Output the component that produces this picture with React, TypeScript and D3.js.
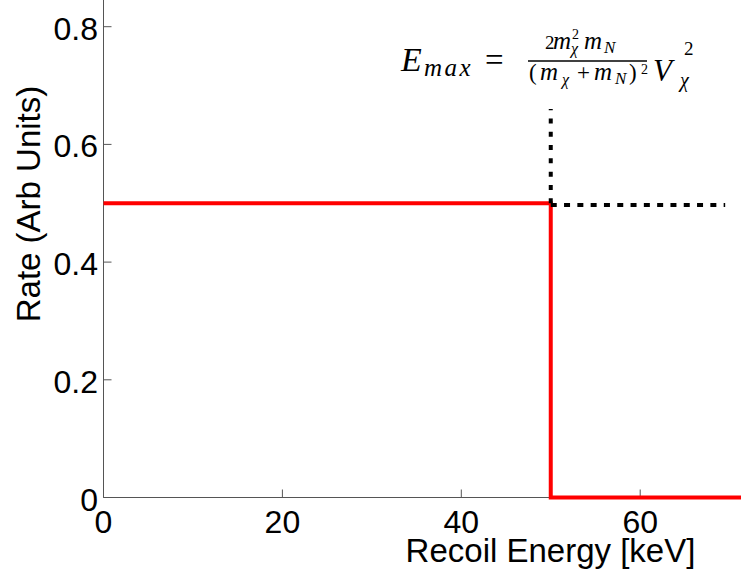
import React from "react";
import * as d3 from "d3";

const energy = [0, 50, 50, 100];
const rate = [0.5, 0.5, 0, 0];
const xTicks = [0, 20, 40, 60, 80, 100];
const yTicks = [0, 0.2, 0.4, 0.6, 0.8, 1];
const yTickLabels = ["0", "0.2", "0.4", "0.6", "0.8", "1"];
const guideVx = [50, 50];
const guideVy = [0.5, 0.66];
const guideHx = [50, 69.5];
const guideHy = [0.497, 0.497];

const W = 741;
const H = 570;
const SANS = "'Liberation Sans', Arial, Helvetica, sans-serif";
const SERIF = "'Liberation Serif', 'Times New Roman', serif";

export default function App() {
  const x = d3.scaleLinear().domain([0, 100]).range([103.5, 998]);
  const y = d3.scaleLinear().domain([0, 1]).range([497.5, -91]);
  const line = d3
    .line<number>()
    .x((d, i) => x(energy[i]))
    .y((d) => y(d))
    .curve(d3.curveLinear);
  const redPath = line(rate) || "";
  const gLine = d3.line<[number, number]>().x((d) => x(d[0])).y((d) => y(d[1]));
  const vPath = gLine(guideVx.map((v, i) => [v, guideVy[i]] as [number, number])) || "";
  const hPath = gLine(guideHx.map((v, i) => [v, guideHy[i]] as [number, number])) || "";
  const axisColor = "#555";
  const visX = xTicks.filter((t) => x(t) < W - 15);
  const visY = yTicks.map((t, i) => ({ t, label: yTickLabels[i] })).filter((d) => y(d.t) > 10);

  return (
    <div style={{ position: "absolute", left: 0, top: 0, width: W, height: H, background: "#fff" }}>
      <svg width={W} height={H} viewBox={`0 0 ${W} ${H}`} style={{ display: "block" }}>
        <rect x={0} y={0} width={W} height={H} fill="#fff" />
        {/* axes */}
        <line x1={x(0)} x2={x(100)} y1={y(0)} y2={y(0)} stroke={axisColor} strokeWidth={1} />
        <line x1={x(0)} x2={x(0)} y1={y(0)} y2={y(1)} stroke={axisColor} strokeWidth={1} />
        {xTicks.map((t) => (
          <line key={"xtl" + t} x1={x(t)} x2={x(t)} y1={y(0)} y2={y(0) - 8} stroke={axisColor} strokeWidth={1} />
        ))}
        {visX.map((t) => (
          <text key={"xt" + t} x={x(t)} y={y(0) + 35} textAnchor="middle" fontFamily={SANS} fontSize={32} fill="#000">
            {t}
          </text>
        ))}
        {yTicks.map((t) => (
          <line key={"ytl" + t} x1={x(0)} x2={x(0) + 8} y1={y(t)} y2={y(t)} stroke={axisColor} strokeWidth={1} />
        ))}
        {visY.map((d) => (
          <text key={"yt" + d.t} x={98} y={y(d.t) + 13} textAnchor="end" fontFamily={SANS} fontSize={32} fill="#000">
            {d.label}
          </text>
        ))}
        {/* axis labels */}
        <text x={550.5} y={562} textAnchor="middle" fontFamily={SANS} fontSize={33} fill="#000">
          Recoil Energy [keV]
        </text>
        <text
          transform={`translate(40, 204) rotate(-90)`}
          textAnchor="middle"
          fontFamily={SANS}
          fontSize={33}
          fill="#000"
        >
          Rate (Arb Units)
        </text>
        {/* data */}
        <path d={redPath} fill="none" stroke="#ff0000" strokeWidth={4} strokeLinejoin="miter" />
        <path d={vPath} fill="none" stroke="#000" strokeWidth={4} strokeDasharray="5,8.3" />
        <path d={hPath} fill="none" stroke="#000" strokeWidth={4} strokeDasharray="6,7.3" />
        {/* formula */}
        <g fill="#000" fontFamily={SERIF}>
          <text x={401} y={71} fontSize={34} fontStyle="italic">E</text>
          <text x={424} y={76} fontSize={25} fontStyle="italic" letterSpacing={2.5}>max</text>
          <text x={485} y={71} fontSize={33}>=</text>
          <line x1={528} x2={647} y1={61} y2={61} stroke="#000" strokeWidth={1.6} />
          {/* numerator */}
          <text x={545} y={49} fontSize={19}>2</text>
          <text x={553} y={49} fontSize={25} fontStyle="italic">m</text>
          <text x={572} y={39} fontSize={14}>2</text>
          <text x={571} y={54} fontSize={16} fontStyle="italic">χ</text>
          <text x={584} y={49} fontSize={25} fontStyle="italic">m</text>
          <text x={604} y={53} fontSize={17} fontStyle="italic">N</text>
          {/* denominator */}
          <text x={529} y={80} fontSize={23}>(</text>
          <text x={540} y={80} fontSize={25} fontStyle="italic">m</text>
          <text x={562} y={85} fontSize={16} fontStyle="italic">χ</text>
          <text x={577} y={80} fontSize={23}>+</text>
          <text x={594} y={80} fontSize={25} fontStyle="italic">m</text>
          <text x={615} y={84} fontSize={17} fontStyle="italic">N</text>
          <text x={629} y={80} fontSize={23}>)</text>
          <text x={641} y={74} fontSize={14}>2</text>
          {/* V term */}
          <text x={653} y={81} fontSize={31} fontStyle="italic">V</text>
          <text x={684} y={55} fontSize={19}>2</text>
          <text x={680} y={87} fontSize={20} fontStyle="italic">χ</text>
        </g>
      </svg>
    </div>
  );
}
